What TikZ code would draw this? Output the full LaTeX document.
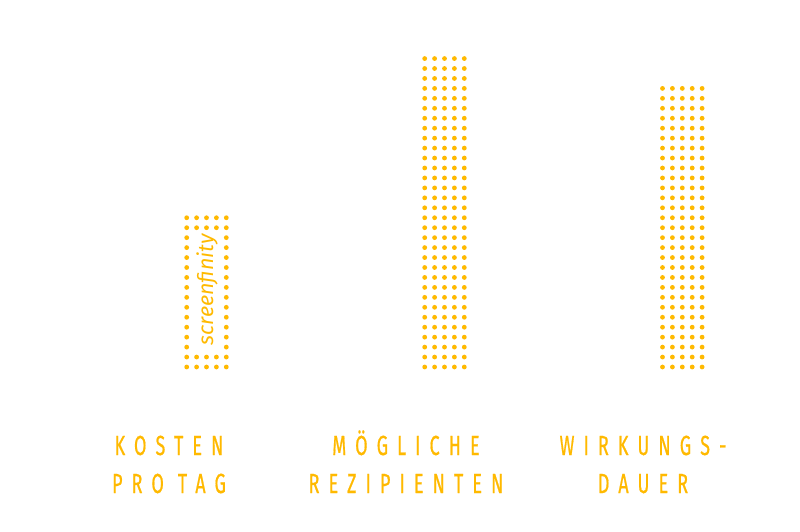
\documentclass[tikz,border=0pt]{standalone}
\usepackage{fontspec}
\newfontfamily\labelfont{Fira Sans}[FakeStretch=0.65,LetterSpace=33,FakeBold=0.6]
\newfontfamily\brandfont{Fira Sans}
\definecolor{gold}{RGB}{255,185,0}
\begin{document}
\begin{tikzpicture}[x=1pt,y=-1pt,every node/.style={text=gold,inner sep=0pt},
  lbl/.style={anchor=base,font=\labelfont\fontsize{27.6}{38}\selectfont}]
\useasboundingbox(0,0)rectangle(800,532);
% bar 1, hollow in the middle
\foreach \r in {0,...,15}{\foreach \c in {-2,...,2}{
  \pgfmathtruncatemacro\inner{(\r>1)*(\r<14)*(abs(\c)<2)}
  \ifnum\inner=0 \fill[gold](206.5+9.9*\c,367-9.95*\r)circle(2.4);\fi}}
\node[rotate=90,anchor=base,font=\brandfont\itshape\fontsize{21.5}{21.5}\selectfont](brand)at(213,290){screenfinity};
% bar 2 and bar 3
\foreach \r in {0,...,31}{\foreach \c in {-2,...,2}{\fill[gold](444.5+9.9*\c,367-9.95*\r)circle(2.4);}}
\foreach \r in {0,...,28}{\foreach \c in {-2,...,2}{\fill[gold](682.3+9.9*\c,367-9.95*\r)circle(2.4);}}
% labels
\node[lbl](kosten)at(169,455){KOSTEN};
\node[lbl](protag)at(169,493){PRO\hspace{14pt}TAG};
\node[lbl](moegliche)at(406,455){MÖGLICHE};
\node[lbl](rezipienten)at(406,493){REZIPIENTEN};
\node[lbl](wirkungs)at(643,455){WIRKUNGS-};
\node[lbl](dauer)at(643,493){DAUER};
\end{tikzpicture}
\end{document}
